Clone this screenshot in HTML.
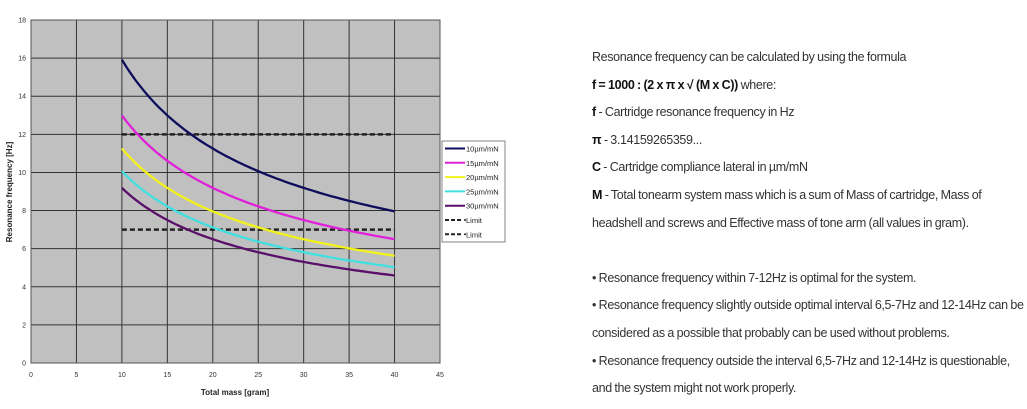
<!DOCTYPE html>
<html><head><meta charset="utf-8"><style>
body{margin:0;background:#fff;width:1027px;height:409px;overflow:hidden;position:relative}
#t{position:absolute;left:592px;top:47px;font-family:"Liberation Sans",sans-serif;font-size:12.5px;color:#333;letter-spacing:-0.35px;word-spacing:-0.5px}
#t div{height:27.6px;line-height:20px;white-space:nowrap}
b{color:#111}
</style></head><body>
<svg id="s" width="520" height="409" style="position:absolute;left:0;top:0" font-family="Liberation Sans,sans-serif"></svg>
<div id="t">
<div>Resonance frequency can be calculated by using the formula</div>
<div><b>f = 1000 : (2 x π x √ (M x C))</b> where:</div>
<div><b>f</b> - Cartridge resonance frequency in Hz</div>
<div><b>π</b> - 3.14159265359...</div>
<div><b>C</b> - Cartridge compliance lateral in µm/mN</div>
<div><b>M</b> - Total tonearm system mass which is a sum of Mass of cartridge, Mass of</div>
<div>headshell and screws and Effective mass of tone arm (all values in gram).</div>
<div></div>
<div>• Resonance frequency within 7-12Hz is optimal for the system.</div>
<div>• Resonance frequency slightly outside optimal interval 6,5-7Hz and 12-14Hz can be</div>
<div>considered as a possible that probably can be used without problems.</div>
<div>• Resonance frequency outside the interval 6,5-7Hz and 12-14Hz is questionable,</div>
<div>and the system might not work properly.</div>
</div>
<script>
var X0=31,X1=440,Y0=363,Y1=20;
function px(x){return X0+(X1-X0)*x/45}
function py(y){return Y0-(Y0-Y1)*y/18}
var h='<rect x="'+X0+'" y="'+Y1+'" width="'+(X1-X0)+'" height="'+(Y0-Y1)+'" fill="#c0c0c0"/>';
for(var i=0;i<=9;i++){var x=px(i*5);h+='<line x1="'+x+'" y1="'+Y1+'" x2="'+x+'" y2="'+Y0+'" stroke="#333" stroke-width="1"/>';h+='<text x="'+x+'" y="377" font-size="7" text-anchor="middle" fill="#333">'+i*5+'</text>';}
for(var j=0;j<=9;j++){var y=py(j*2);h+='<line x1="'+X0+'" y1="'+y+'" x2="'+X1+'" y2="'+y+'" stroke="#333" stroke-width="1"/>';h+='<text x="26" y="'+(y+2.5)+'" font-size="7" text-anchor="end" fill="#333">'+j*2+'</text>';}
h+='<rect x="'+X0+'" y="'+Y1+'" width="'+(X1-X0)+'" height="'+(Y0-Y1)+'" fill="none" stroke="#555" stroke-width="1"/>';
var cols=['#0d0d5c','#e020d8','#f2f21a','#40e0e0','#5a0f6a'],cs=[10,15,20,25,30];
[12,7].forEach(function(v){h+='<line x1="'+px(10)+'" y1="'+py(v)+'" x2="'+px(40)+'" y2="'+py(v)+'" stroke="#222" stroke-width="2.5" stroke-dasharray="5,3"/>';});
cs.forEach(function(c,k){var d='';for(var m=10;m<=40.01;m+=0.5){var f=1000/(2*Math.PI*Math.sqrt(m*c));d+=(m==10?'M':'L')+px(m).toFixed(1)+','+py(f).toFixed(1);}h+='<path d="'+d+'" fill="none" stroke="'+cols[k]+'" stroke-width="2.3"/>';});
h+='<text x="235" y="395" font-size="8" font-weight="bold" text-anchor="middle" fill="#222">Total mass [gram]</text>';
h+='<text transform="translate(12,192) rotate(-90)" font-size="8" font-weight="bold" text-anchor="middle" fill="#222">Resonance frequency [Hz]</text>';
h+='<rect x="442" y="141" width="63" height="101" fill="#fff" stroke="#666" stroke-width="0.8"/>';
var labs=['10µm/mN','15µm/mN','20µm/mN','25µm/mN','30µm/mN','Limit','Limit'];
labs.forEach(function(l,k){var y=148.5+k*14.3;if(k<5)h+='<line x1="445" y1="'+y+'" x2="465" y2="'+y+'" stroke="'+cols[k]+'" stroke-width="2"/>';else h+='<line x1="445" y1="'+y+'" x2="463" y2="'+y+'" stroke="#222" stroke-width="2" stroke-dasharray="4,2"/><circle cx="465" cy="'+y+'" r="1" fill="#222"/>';h+='<text x="466" y="'+(y+3)+'" font-size="7.5" fill="#222">'+l+'</text>';});
document.getElementById('s').innerHTML=h;
</script>
</body></html>
